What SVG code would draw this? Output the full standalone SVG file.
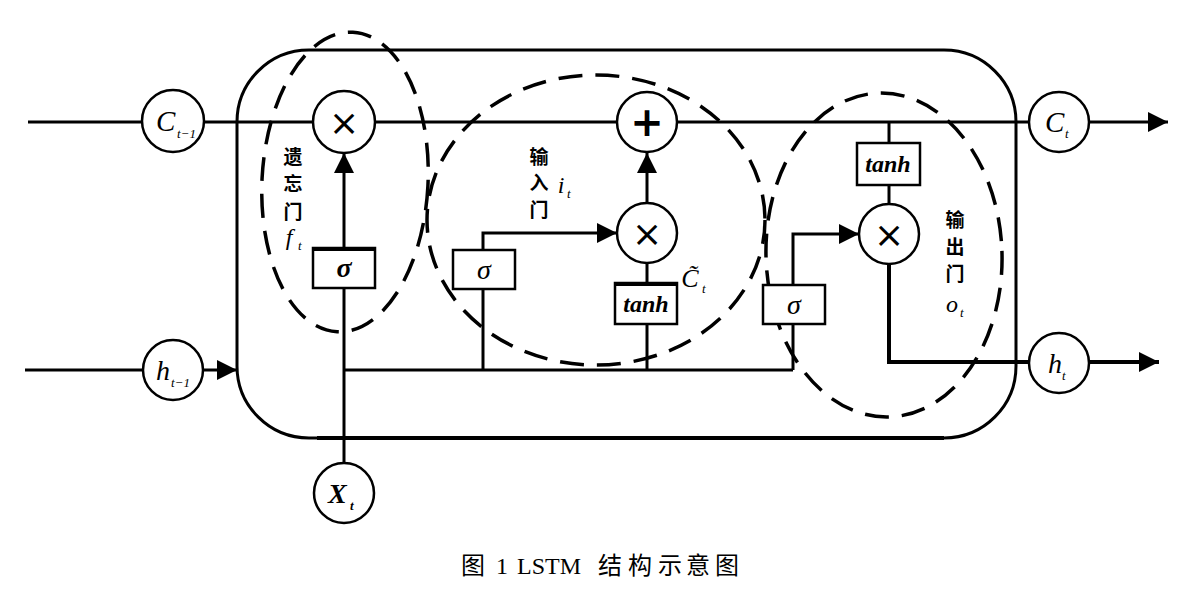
<svg xmlns="http://www.w3.org/2000/svg" width="1200" height="598" viewBox="0 0 1200 598">
<defs>
<style>
.ln{fill:none;stroke:#000;stroke-width:3}
.thick{fill:none;stroke:#000;stroke-width:4}
.cir{fill:#fff;stroke:#000;stroke-width:2.5}
.box{fill:#fff;stroke:#000;stroke-width:2.5}
.dash{fill:none;stroke:#000;stroke-width:3.5;stroke-dasharray:24 13}
.var{font-family:"Liberation Serif",serif;font-style:italic;fill:#000}
.sub{font-family:"Liberation Serif",serif;font-style:italic;font-size:13px;fill:#000}
.op{font-family:"DejaVu Sans",sans-serif;fill:#000;text-anchor:middle}
.cn{font-family:"Noto Sans CJK SC",sans-serif;font-weight:bold;font-size:19px;fill:#000;text-anchor:middle}
.cap{font-family:"Liberation Serif","Noto Sans CJK SC",serif;font-size:24px;fill:#000}
</style>
<marker id="ah" markerUnits="userSpaceOnUse" markerWidth="20" markerHeight="20" refX="20" refY="10" orient="auto">
<path d="M0,0 L20,10 L0,20 z" fill="#000"/>
</marker>
</defs>
<rect width="1200" height="598" fill="#fff"/>

<g id="cell">
<rect x="237" y="50" width="779" height="388" rx="72" ry="72" class="ln"/>
<line x1="317" y1="438" x2="944" y2="438" class="thick"/>
</g>

<g id="connectors">
<path d="M28,122 H1168" class="ln" marker-end="url(#ah)"/>
<path d="M25,370 H237" class="ln" marker-end="url(#ah)"/>
<path d="M344,370 H793" class="ln"/>
<path d="M344,462 V288" class="ln"/>
<path d="M344,248 V153" class="ln" marker-end="url(#ah)"/>
<path d="M483,370 V289" class="ln"/>
<path d="M483,250 V233 H617" class="ln" marker-end="url(#ah)"/>
<path d="M647,370 V324" class="ln"/>
<path d="M647,283 V263" class="ln"/>
<path d="M647,203 V153" class="ln" marker-end="url(#ah)"/>
<path d="M793,370 V324" class="ln"/>
<path d="M793,285 V234 H859" class="ln" marker-end="url(#ah)"/>
<path d="M889,122 V143" class="ln"/>
<path d="M889,185 V204" class="ln"/>
<path d="M889,264 V362 H1029" class="thick"/>
<path d="M1089,362 H1159" class="thick" marker-end="url(#ah)"/>
</g>

<g id="gates">
<ellipse cx="345" cy="182" rx="83" ry="150" transform="rotate(3 345 182)" class="dash"/>
<ellipse cx="596" cy="220" rx="169" ry="145" class="dash"/>
<ellipse cx="884" cy="255" rx="118" ry="162" transform="rotate(-2 884 255)" class="dash"/>
</g>

<g id="c_prev">
<circle cx="173" cy="121" r="31" class="cir"/>
<text x="156" y="131" class="var" font-size="29">C</text>
<text x="177" y="138" class="sub">t−1</text>
</g>
<g id="h_prev">
<circle cx="173" cy="370" r="30" class="cir"/>
<text x="156" y="380" class="var" font-size="28">h</text>
<text x="171" y="387" class="sub">t−1</text>
</g>
<g id="x_t">
<circle cx="344" cy="493" r="30" class="cir"/>
<text x="328" y="503" class="var" font-size="28" font-weight="bold">X</text>
<text x="350" y="510" class="sub" font-weight="bold">t</text>
</g>

<g id="forget_mul">
<circle cx="344" cy="122" r="31" class="cir"/>
<text x="344" y="135" class="op" font-size="36">×</text>
</g>
<g id="forget_sigma">
<rect x="313" y="248" width="62" height="40" class="box"/>
<line x1="313" y1="249" x2="375" y2="249" class="thick"/>
<text x="344" y="277" class="var" font-size="28" font-weight="bold" text-anchor="middle">σ</text>
</g>
<g id="forget_label">
<text x="293" y="164" class="cn">遗</text>
<text x="293" y="191" class="cn">忘</text>
<text x="293" y="219" class="cn">门</text>
<text x="289" y="245" class="var" font-size="24" text-anchor="middle">f</text>
<text x="298" y="250" class="sub">t</text>
</g>

<g id="add">
<circle cx="647" cy="122" r="30" class="cir"/>
<text x="647" y="136" class="op" font-size="40" font-weight="bold">+</text>
</g>
<g id="input_mul">
<circle cx="647" cy="233" r="30" class="cir"/>
<text x="647" y="246" class="op" font-size="36">×</text>
</g>
<g id="input_sigma">
<rect x="453" y="250" width="62" height="39" class="box"/>
<text x="484" y="279" class="var" font-size="28" text-anchor="middle">σ</text>
</g>
<g id="input_tanh">
<rect x="615" y="283" width="62" height="41" class="box"/>
<line x1="615" y1="284" x2="677" y2="284" class="thick"/>
<text x="646" y="312" class="var" font-size="24" font-weight="bold" text-anchor="middle">tanh</text>
</g>
<g id="input_label">
<text x="539" y="164" class="cn">输</text>
<text x="539" y="190" class="cn">入</text>
<text x="539" y="217" class="cn">门</text>
<text x="561" y="193" class="var" font-size="24" text-anchor="middle">i</text>
<text x="567" y="198" class="sub">t</text>
</g>
<g id="c_tilde">
<text x="690" y="287" class="var" font-size="26" text-anchor="middle">C̃</text>
<text x="702" y="293" class="sub">t</text>
</g>

<g id="output_tanh">
<rect x="857" y="143" width="63" height="42" class="box"/>
<text x="888" y="172" class="var" font-size="24" font-weight="bold" text-anchor="middle">tanh</text>
</g>
<g id="output_mul">
<circle cx="889" cy="234" r="30" class="cir"/>
<text x="889" y="247" class="op" font-size="36">×</text>
</g>
<g id="output_sigma">
<rect x="763" y="285" width="62" height="39" class="box"/>
<text x="794" y="314" class="var" font-size="28" text-anchor="middle">σ</text>
</g>
<g id="output_label">
<text x="955" y="227" class="cn">输</text>
<text x="955" y="254" class="cn">出</text>
<text x="955" y="281" class="cn">门</text>
<text x="952" y="312" class="var" font-size="24" text-anchor="middle">o</text>
<text x="960" y="317" class="sub">t</text>
</g>

<g id="c_t">
<circle cx="1059" cy="122" r="30" class="cir"/>
<text x="1045" y="132" class="var" font-size="29">C</text>
<text x="1065" y="138" class="sub">t</text>
</g>
<g id="h_t">
<circle cx="1059" cy="363" r="30" class="cir"/>
<text x="1048" y="373" class="var" font-size="28">h</text>
<text x="1062" y="380" class="sub">t</text>
</g>

<text y="574" class="cap"><tspan x="461">图</tspan><tspan x="496">1</tspan><tspan x="517">LSTM</tspan><tspan x="598">结</tspan><tspan x="628">构</tspan><tspan x="658">示</tspan><tspan x="686">意</tspan><tspan x="715">图</tspan></text>
</svg>
